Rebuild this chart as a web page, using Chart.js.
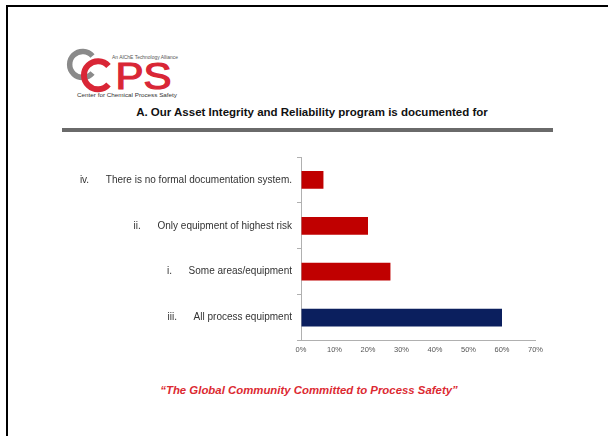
<!DOCTYPE html>
<html>
<head>
<meta charset="utf-8">
<script src="https://cdn.jsdelivr.net/npm/chart.js@4/dist/chart.umd.min.js"></script>
<style>
  html, body { margin: 0; padding: 0; background: #fff; }
  body { width: 608px; height: 436px; position: relative; overflow: hidden; font-family: "Liberation Sans", Arial, sans-serif; }
  .frame-top { position: absolute; left: 6px; top: 5px; width: 602px; height: 2px; background: #000; }
  .frame-left { position: absolute; left: 6px; top: 5px; width: 2px; height: 431px; background: #000; }
  #logo { position: absolute; left: 60px; top: 44px; }
  .title { position: absolute; left: 0; width: 624px; top: 106px; text-align: center; font-weight: bold; font-size: 11.5px; color: #111; white-space: nowrap; }
  .rule { position: absolute; left: 62px; top: 128px; width: 491px; height: 4px; background: #6a6a6a; }
  .motto { position: absolute; left: 0; width: 618px; top: 384px; text-align: center; font-weight: bold; font-style: italic; font-size: 11.4px; color: #dc2a32; white-space: nowrap; }
  #chart { position: absolute; left: 0; top: 0; }
</style>
</head>
<body>
<div class="frame-top"></div>
<div class="frame-left"></div>

<svg id="logo" width="140" height="60" viewBox="0 0 140 60">
  <!-- grey ring -->
  <path d="M 32.5 12.0 A 13 13 0 1 0 32.5 29.0" fill="none" stroke="#8a8a8a" stroke-width="5.5"/>
  <!-- red ring -->
  <path d="M 48.5 22.0 A 14 14 0 1 0 48.5 40.5" fill="none" stroke="#d92636" stroke-width="6"/>
  <text x="55.5" y="45" font-family="Liberation Sans, Arial, sans-serif" font-size="36" fill="#d92636" stroke="#d92636" stroke-width="1.2" textLength="56" lengthAdjust="spacingAndGlyphs">PS</text>
  <text x="52" y="15" font-family="Liberation Sans, Arial, sans-serif" font-size="4.6" fill="#555" textLength="66" lengthAdjust="spacingAndGlyphs">An AIChE Technology Alliance</text>
  <text x="17" y="53" font-family="Liberation Sans, Arial, sans-serif" font-size="5.6" fill="#333" textLength="100" lengthAdjust="spacingAndGlyphs">Center for Chemical Process Safety</text>
</svg>

<div class="title">A. Our Asset Integrity and Reliability program is documented for</div>
<div class="rule"></div>
<div class="motto">“The Global Community Committed to Process Safety”</div>

<canvas id="chart" width="608" height="436"></canvas>

<script>
// Survey answers, listed top to bottom
const numerals = ['iv.', 'ii.', 'i.', 'iii.'];
const answers = [
  'There is no formal documentation system.',
  'Only equipment of highest risk',
  'Some areas/equipment',
  'All process equipment'
];
// Share of respondents, percent
const shares = [6.7, 20, 26.7, 60];
const barColors = ['#c00000', '#c00000', '#c00000', '#0b1f5e'];
// Percent axis range
const axisMin = 0;
const axisMax = 70;
const axisStep = 10;

const FONT = '"Liberation Sans", Arial, sans-serif';

new Chart(document.getElementById('chart'), {
  type: 'bar',
  data: {
    labels: answers,
    datasets: [{
      data: shares,
      backgroundColor: barColors,
      borderWidth: 0,
      categoryPercentage: 1,
      barPercentage: 0.386
    }]
  },
  options: {
    indexAxis: 'y',
    responsive: false,
    animation: false,
    layout: { padding: { left: 0, top: 157, right: 72.5, bottom: 75.5 } },
    plugins: { legend: { display: false }, tooltip: { enabled: false } },
    scales: {
      x: {
        min: axisMin,
        max: axisMax,
        grid: { drawOnChartArea: false, drawTicks: false },
        border: { color: '#b0b0b0', width: 1 },
        ticks: {
          stepSize: axisStep,
          padding: 5,
          color: '#555',
          font: { family: FONT, size: 7.5 },
          callback: v => v + '%'
        },
        afterFit: s => { s.height = 20; }
      },
      y: {
        grid: { drawOnChartArea: false, tickLength: 4, color: '#b0b0b0' },
        border: { color: '#b0b0b0', width: 1 },
        ticks: {
          padding: 5,
          color: '#333',
          font: { family: FONT, size: 10 },
          callback: (v, i) => numerals[i] + '      ' + answers[i]
        },
        afterFit: s => { s.width = 301; }
      }
    }
  }
});
</script>
</body>
</html>
